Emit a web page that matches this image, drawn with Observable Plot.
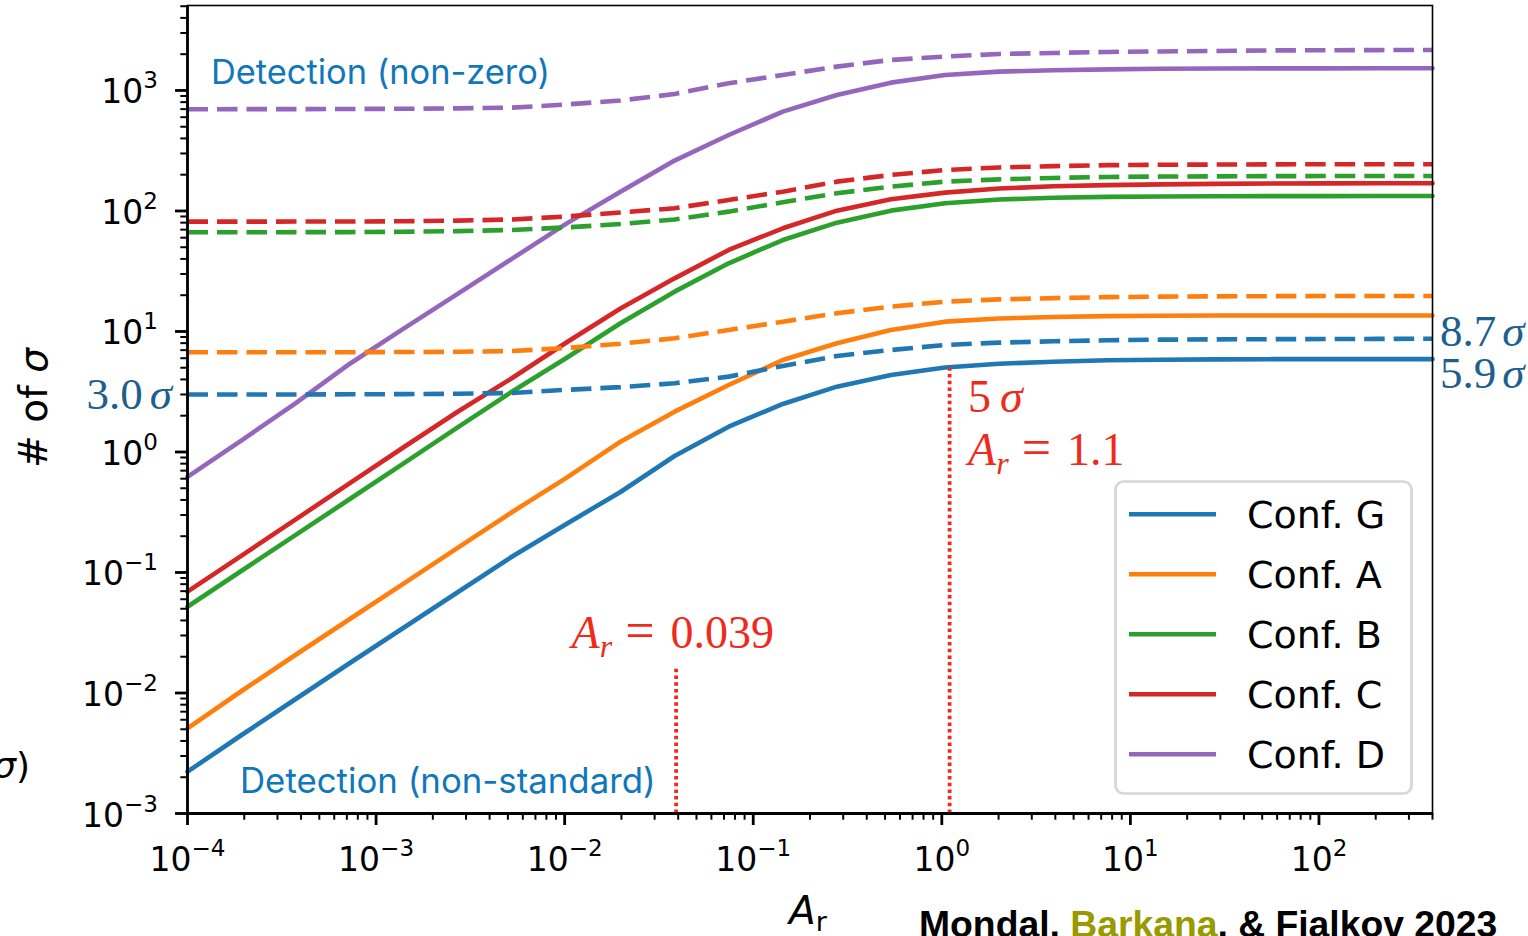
<!DOCTYPE html>
<html>
<head>
<meta charset="utf-8">
<script src="https://cdn.jsdelivr.net/npm/d3@7"></script>
<script src="https://cdn.jsdelivr.net/npm/@observablehq/plot@0.6"></script>
<style>
  html, body { margin: 0; padding: 0; background: #fff; }
  #chart svg { display: block; }
</style>
</head>
<body>
<div id="chart"></div>
<script>
// Amplitude A_r sampled on a log grid
const ar = [0.0001, 0.0001936, 0.000375, 0.000726, 0.001406, 0.00272, 0.00527, 0.01021,
            0.01977, 0.03828, 0.0741, 0.1435, 0.2776, 0.537, 1.040, 2.014, 3.90, 7.55,
            14.62, 28.3, 54.8, 106.2, 205.6, 400];

const confNames  = ["Conf. G", "Conf. A", "Conf. B", "Conf. C", "Conf. D"];
const confColors = ["#1f77b4", "#ff7f0e", "#2ca02c", "#d62728", "#9467bd"];

// Detection significance (# of sigma) against the standard model (solid lines)
const sigmaG_nonStd = [0.002222, 0.004481, 0.008917, 0.01774, 0.03497, 0.0689, 0.1358, 0.2527, 0.4656, 0.9265, 1.622, 2.502, 3.483, 4.355, 5.017, 5.395, 5.615, 5.768, 5.834, 5.868, 5.89, 5.90, 5.90, 5.9];
const sigmaA_nonStd = [0.00509, 0.01039, 0.02078, 0.0411, 0.0813, 0.1609, 0.3177, 0.6097, 1.218, 2.160, 3.597, 5.80, 7.98, 10.29, 12.06, 12.80, 13.20, 13.40, 13.50, 13.55, 13.58, 13.58, 13.58, 13.58];
const sigmaB_nonStd = [0.0520, 0.1033, 0.2051, 0.407, 0.809, 1.606, 3.18, 6.03, 11.7, 21.4, 36.8, 57.4, 80.0, 100.6, 115.9, 124.6, 128.7, 130.9, 131.9, 132.4, 132.7, 132.9, 133.2, 133.2];
const sigmaC_nonStd = [0.0693, 0.138, 0.276, 0.551, 1.100, 2.168, 4.11, 8.10, 15.5, 27.6, 47.5, 71.8, 100.6, 125.1, 141.9, 153.4, 160.3, 163.8, 166.3, 167.9, 168.8, 169.4, 169.8, 169.8];
const sigmaD_nonStd = [0.621, 1.25, 2.54, 5.40, 10.6, 20.6, 40.2, 78.5, 144.6, 262, 427, 667, 918, 1161, 1344, 1432, 1472, 1497, 1512, 1521, 1524, 1526, 1528, 1528];

// Detection significance against a zero signal (dashed lines)
const sigmaG_nonZero = [3.0, 3.0, 3.0, 3.01, 3.02, 3.04, 3.09, 3.28, 3.45, 3.72, 4.22, 5.17, 6.26, 7.02, 7.73, 8.08, 8.29, 8.45, 8.55, 8.60, 8.63, 8.65, 8.68, 8.7];
const sigmaA_nonZero = [6.72, 6.72, 6.72, 6.73, 6.75, 6.78, 6.89, 7.30, 7.91, 8.78, 10.29, 12.06, 14.16, 16.06, 17.67, 18.47, 18.90, 19.26, 19.45, 19.56, 19.63, 19.67, 19.71, 19.71];
const sigmaB_nonZero = [66.6, 66.6, 66.7, 66.8, 67.2, 68.0, 69.6, 73.0, 78.0, 85.0, 98.7, 118.1, 140.3, 159.1, 175.1, 182.9, 187.9, 191.5, 193.0, 193.7, 194.5, 194.8, 195.2, 195.2];
const sigmaC_nonZero = [81.5, 81.5, 81.7, 81.8, 82.1, 83.1, 85.0, 90.0, 97.2, 105.3, 123.4, 144.6, 175.1, 199.0, 218.9, 229.6, 235.4, 239.9, 241.8, 242.7, 243.6, 244.1, 244.1, 244.1];
const sigmaD_nonZero = [698, 700, 700, 702, 705, 710, 720, 765, 826, 935, 1147, 1345, 1577, 1792, 1909, 2009, 2047, 2088, 2108, 2128, 2148, 2157, 2163, 2168];

// Threshold markers: A_r where the 5-sigma level is reached, and the A_r = 0.039 mark
const thresholds = [
  {ar: 0.039, bottom: 0.001, top: 0.016},
  {ar: 1.1, bottom: 0.001, top: 5}
];

// Axis ticks
const xMajor = [1e-4, 1e-3, 1e-2, 1e-1, 1, 10, 100];
const yMajor = [1e-3, 1e-2, 1e-1, 1, 10, 100, 1000];
const xMinor = [];
for (const p of [1e-4, 1e-3, 1e-2, 1e-1, 1, 10, 100]) for (let m = 2; m <= 9; m++) if (m * p <= 400) xMinor.push(m * p);
const yMinor = [];
for (const p of [1e-3, 1e-2, 1e-1, 1, 10, 100, 1000]) for (let m = 2; m <= 9; m++) if (m * p <= 5070) yMinor.push(m * p);

const nonStd  = [sigmaG_nonStd, sigmaA_nonStd, sigmaB_nonStd, sigmaC_nonStd, sigmaD_nonStd];
const nonZero = [sigmaG_nonZero, sigmaA_nonZero, sigmaB_nonZero, sigmaC_nonZero, sigmaD_nonZero];

const solidRows = [], dashedRows = [];
confNames.forEach((c, j) => {
  ar.forEach((x, i) => {
    solidRows.push({conf: c, ar: x, sigma: nonStd[j][i]});
    dashedRows.push({conf: c, ar: x, sigma: nonZero[j][i]});
  });
});

const RED = "#ef2a1d";
const DARKBLUE = "#1d5f8f";
const TEXTBLUE = "#1177bb";
const LW = 4.6;
const expFmt = d => "10^" + Math.round(Math.log10(d));

const plot = Plot.plot({
  width: 1528,
  height: 936,
  marginLeft: 187,
  marginRight: 96,
  marginTop: 5,
  marginBottom: 123,
  style: {fontFamily: "DejaVu Sans", fontSize: "33px", background: "#fff", color: "#000"},
  x: {type: "log", domain: [1e-4, 400]},
  y: {type: "log", domain: [1e-3, 5070]},
  color: {domain: confNames, range: confColors},
  marks: [
    Plot.line(solidRows, {x: "ar", y: "sigma", z: "conf", stroke: "conf", strokeWidth: LW, strokeLinejoin: "round"}),
    Plot.line(dashedRows, {x: "ar", y: "sigma", z: "conf", stroke: "conf", strokeWidth: LW, strokeDasharray: "20.5,9", strokeLinecap: "butt"}),
    Plot.ruleX(thresholds, {x: "ar", y1: "bottom", y2: "top", stroke: RED, strokeWidth: 3.8, strokeDasharray: "3.5,3.2"}),
    Plot.frame({stroke: "#000", strokeWidth: 1.6}),
    Plot.ruleX([1e-4], {stroke: "#000", strokeWidth: 2.8}),
    Plot.ruleY([1e-3], {stroke: "#000", strokeWidth: 2.8}),
    Plot.axisX(xMinor, {tickSize: 6.7, strokeWidth: 2, tickFormat: () => "", label: null}),
    Plot.axisY(yMinor, {tickSize: 6.7, strokeWidth: 2, tickFormat: () => "", label: null}),
    Plot.axisX(xMajor, {tickSize: 12, tickPadding: 21.6, strokeWidth: 2.8, tickFormat: expFmt, label: null}),
    Plot.axisY(yMajor, {tickSize: 12, tickPadding: 17.5, strokeWidth: 2.8, tickFormat: expFmt, label: null})
  ]
});

document.getElementById("chart").appendChild(plot);

const svg = d3.select(plot);
const sx = plot.scale("x"), sy = plot.scale("y");

// Power-of-ten tick labels with raised exponents
function powerLabels(sel, yAttr) {
  sel.each(function () {
    const m = this.textContent.match(/^10\^(-?\d+)$/);
    if (!m) return;
    const e = m[1].replace("-", "\u2212");
    const t = d3.select(this);
    t.text(null);
    if (yAttr != null) t.attr("y", yAttr);
    t.append("tspan").text("10");
    t.append("tspan").attr("dy", -15).attr("font-size", 23).text(e);
  });
}
powerLabels(svg.selectAll('g[aria-label="x-axis tick label"] text'), null);
powerLabels(svg.selectAll('g[aria-label="y-axis tick label"] text'), 13);

const ann = svg.append("g").attr("text-anchor", "start");

// Helper for mixed-style text
function rich(x, y, parts, attrs) {
  const t = ann.append("text").attr("x", x).attr("y", y).attr("text-anchor", "start");
  Object.entries(attrs).forEach(([k, v]) => t.attr(k, v));
  parts.forEach(p => {
    const s = t.append("tspan").text(p.t);
    if (p.italic) s.attr("font-style", "italic");
    if (p.dx != null) s.attr("dx", p.dx);
    if (p.dy != null) s.attr("dy", p.dy);
    if (p.size != null) s.attr("font-size", p.size);
  });
  return t;
}

// Axis titles
rich(0, 0, [{t: "# of "}, {t: "σ", italic: true}], {
  transform: "translate(47,408) rotate(-90)", "text-anchor": "middle",
  "font-family": "DejaVu Sans", "font-size": 39, fill: "#000"
});
rich(808, 924, [{t: "A", italic: true}, {t: "r", size: 27, dy: 7}], {
  "text-anchor": "middle", "font-family": "DejaVu Sans", "font-size": 39, fill: "#000"
});
rich(30, 778, [{t: "σ", italic: true}, {t: ")"}], {
  "text-anchor": "end", "font-family": "DejaVu Sans", "font-size": 36, fill: "#000"
});

// Region labels
ann.append("text").attr("x", 211).attr("y", 84).attr("text-anchor", "start").attr("font-family", "Inter").attr("font-size", 34.4)
  .attr("fill", TEXTBLUE).text("Detection (non-zero)");
ann.append("text").attr("x", 240).attr("y", 793).attr("text-anchor", "start").attr("font-family", "Inter").attr("font-size", 34.8)
  .attr("fill", TEXTBLUE).text("Detection (non-standard)");

// Significance values at the ends of Conf. G curves
const serif = {"font-family": "Liberation Serif", "font-size": 45, fill: DARKBLUE};
const g0 = sigmaG_nonZero[0], g1 = sigmaG_nonZero[sigmaG_nonZero.length - 1], gs = sigmaG_nonStd[sigmaG_nonStd.length - 1];
rich(sx.apply(1e-4) - 15, sy.apply(g0) + 15, [{t: g0.toFixed(1)}, {t: "σ", italic: true, dx: 7}], {...serif, "text-anchor": "end"});
rich(sx.apply(400) + 8, sy.apply(g1) + 8, [{t: g1.toFixed(1)}, {t: "σ", italic: true, dx: 6}], serif);
rich(sx.apply(400) + 8, sy.apply(gs) + 29, [{t: gs.toFixed(1)}, {t: "σ", italic: true, dx: 6}], serif);

// Threshold annotations
const redSerif = {"font-family": "Liberation Serif", "font-size": 46, fill: RED};
const t5 = thresholds[1], t0 = thresholds[0];
rich(sx.apply(t5.ar) + 19, sy.apply(t5.top) + 45, [{t: String(t5.top)}, {t: "σ", italic: true, dx: 9}], redSerif);
rich(sx.apply(t5.ar) + 19, sy.apply(t5.top) + 98,
  [{t: "A", italic: true}, {t: "r", italic: true, size: 32, dy: 9}, {t: "=", dy: -9, dx: 13, size: 52}, {t: String(t5.ar), dx: 16}], redSerif);
rich(sx.apply(t0.ar) - 104, sy.apply(t0.top) - 20,
  [{t: "A", italic: true}, {t: "r", italic: true, size: 32, dy: 9}, {t: "=", dy: -9, dx: 13, size: 52}, {t: String(t0.ar), dx: 16}], redSerif);

// Legend
const lg = svg.append("g").attr("text-anchor", "start");
lg.append("rect").attr("x", 1115.5).attr("y", 481.5).attr("width", 296).attr("height", 312)
  .attr("rx", 8).attr("fill", "#fff").attr("stroke", "#d6d6d6").attr("stroke-width", 2.7);
confNames.forEach((c, i) => {
  const y = 514.3 + 60 * i;
  lg.append("line").attr("x1", 1129).attr("x2", 1216).attr("y1", y).attr("y2", y)
    .attr("stroke", confColors[i]).attr("stroke-width", LW);
  lg.append("text").attr("x", 1247).attr("y", y + 13.5).attr("text-anchor", "start").attr("font-family", "DejaVu Sans")
    .attr("font-size", 38).attr("fill", "#000").text(c);
});

// Credit line
const cr = svg.append("text").attr("x", 919).attr("y", 937).attr("text-anchor", "start").attr("font-family", "Liberation Sans")
  .attr("font-weight", "bold").attr("font-size", 37.3).attr("fill", "#000");
cr.append("tspan").text("Mondal, ");
cr.append("tspan").attr("fill", "#999900").text("Barkana");
cr.append("tspan").text(", & Fialkov 2023");
</script>
</body>
</html>
